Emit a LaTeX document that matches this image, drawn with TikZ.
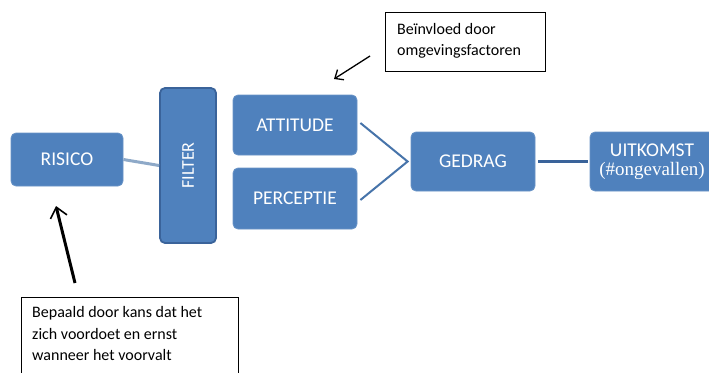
\documentclass[tikz,border=0pt]{standalone}
\usepackage{fontspec}
\setmainfont{Carlito}
\newfontfamily\serifont{Liberation Serif}
\usetikzlibrary{arrows.meta}
\definecolor{boxblue}{HTML}{4F81BD}
\definecolor{darkblue}{HTML}{3A639A}
\definecolor{lightline}{HTML}{8EA9C8}
\tikzset{
  bluebox/.style={rectangle, rounded corners=5pt, fill=boxblue, draw=boxblue!85!white, line width=0.8pt,
    text=white, font=\fontsize{19.5}{21}\selectfont, align=center, inner sep=0pt},
  notebox/.style={rectangle, draw=black, line width=0.7pt, fill=white, inner sep=0pt, anchor=north west},
  notetext/.style={align=left, font=\fontsize{16}{21.5}\selectfont, inner sep=0pt, anchor=north west},
  conn/.style={line width=2.5pt, darkblue},
  noteArrow/.style={black, -{Straight Barb[length=9pt,width=15pt,line width=1.5pt]}}
}
\begin{document}
\begin{tikzpicture}[x=1pt,y=-1pt]
\useasboundingbox (0,0) rectangle (709,372);
\clip (0,0) rectangle (709,372);
\fill[white] (0,0) rectangle (709,372);

\node[bluebox, minimum width=112pt, minimum height=53pt] (risico) at (67,159.5) {RISICO};
\node[bluebox, minimum width=56pt, minimum height=155pt, draw=darkblue, line width=1.8pt] (filter) at (188,165.5) {};
\node[text=white, font=\fontsize{18}{20}\selectfont, rotate=90] (filtertxt) at (filter.center) {FILTER};
\node[bluebox, minimum width=124pt, minimum height=60pt] (attitude) at (295,125) {ATTITUDE};
\node[bluebox, minimum width=124pt, minimum height=61pt] (perceptie) at (295,198.5) {PERCEPTIE};
\node[bluebox, minimum width=124pt, minimum height=59pt] (gedrag) at (473,161.5) {GEDRAG};
\node[bluebox, minimum width=124pt, minimum height=59pt] (uitkomst) at (652,161.5) {UITKOMST\\[-2pt]{\serifont\fontsize{19}{20}\selectfont(\#ongevallen)}};

\draw[line width=3pt, lightline] (risico.east) -- (filter.west);
\draw[line width=2pt, boxblue!90!black] ([xshift=3pt,yshift=2pt]attitude.east) -- ([xshift=-3pt]gedrag.west) -- ([xshift=3pt,yshift=-1.5pt]perceptie.east);
\draw[conn] ([xshift=3pt]gedrag.east) -- ([xshift=-2pt]uitkomst.west);

\node[notebox, minimum width=160pt, minimum height=59pt] (invloed) at (385,12) {};
\node[notetext] (invloedtxt) at (397,23) {Beïnvloed door\\omgevingsfactoren};
\node[notebox, minimum width=217pt, minimum height=90pt] (bepaald) at (21,297) {};
\node[notetext] (bepaaldtxt) at (32,306.5) {Bepaald door kans dat het\\zich voordoet en ernst\\wanneer het voorvalt};

\coordinate (a1s) at (370,56);
\coordinate (a1e) at (334,79);
\draw[noteArrow, line width=1.3pt, -{Straight Barb[length=7pt,width=12pt,line width=1.3pt]}] (a1s) -- (a1e);
\coordinate (a2s) at (75,283);
\coordinate (a2e) at (56,206);
\draw[noteArrow, line width=3pt, -{Straight Barb[length=10pt,width=17pt,line width=1.6pt]}] (a2s) -- (a2e);
\end{tikzpicture}
\end{document}
